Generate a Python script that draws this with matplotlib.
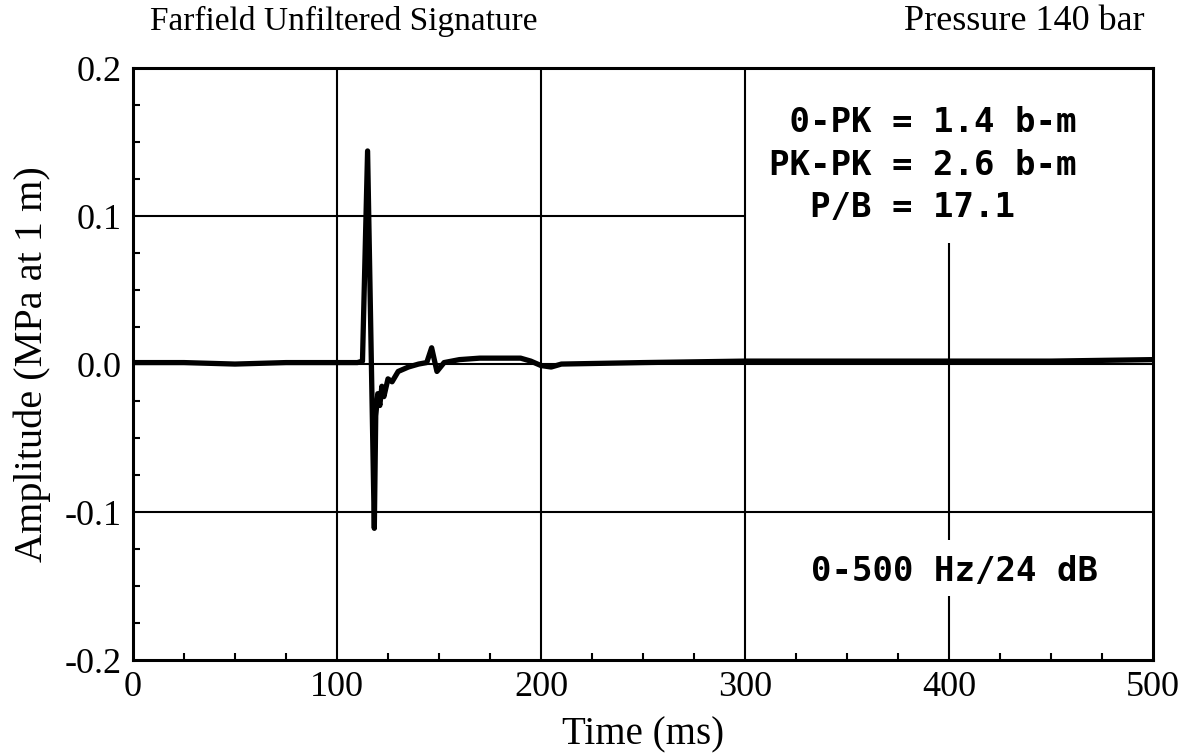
import matplotlib.pyplot as plt
from matplotlib.ticker import MultipleLocator


# Signature
time_ms = [0, 25, 50, 75, 100, 110, 112.5, 115, 118.3, 119, 120, 121, 122,
           123, 125, 127, 130, 135, 140, 144, 146.4, 149, 152.5, 160, 170,
           180, 190, 195, 200, 205, 210, 250, 300, 350, 400, 450, 500]
amplitude = [0.001, 0.001, 0.000, 0.001, 0.001, 0.001, 0.002, 0.144, -0.111,
             -0.035, -0.020, -0.028, -0.015, -0.022, -0.010, -0.012, -0.005,
             -0.002, 0.000, 0.001, 0.011, -0.005, 0.001, 0.003, 0.004, 0.004,
             0.004, 0.002, -0.001, -0.002, 0.000, 0.001, 0.002, 0.002, 0.002,
             0.002, 0.003]

x_ticks = [0, 100, 200, 300, 400, 500]
y_ticks = [-0.2, -0.1, 0.0, 0.1, 0.2]
y_tick_labels = ['-0.2', '-0.1', '0.0', '0.1', '0.2']

stats_lines = [' 0-PK = 1.4 b-m', 'PK-PK = 2.6 b-m', '  P/B = 17.1']
stats_y = [0.163, 0.134, 0.106]
filter_text = '0-500 Hz/24 dB'

plt.rcParams['font.family'] = ['Liberation Serif', 'DejaVu Serif']

fig = plt.figure(figsize=(11.96, 7.55), dpi=100)
ax = fig.add_axes([0.1112, 0.1258, 0.8528, 0.784])

# Grid drawn by hand, the annotation boxes cut through part of it
grid_kw = dict(colors='black', linewidth=1.5, zorder=1)
ax.vlines([100, 200, 300], -0.2, 0.2, **grid_kw)
ax.vlines(400, -0.2, -0.157, **grid_kw)
ax.vlines(400, -0.119, 0.082, **grid_kw)
ax.hlines(0.1, 0, 300, **grid_kw)
ax.hlines([0.0, -0.1], 0, 500, **grid_kw)

ax.plot(time_ms, amplitude, color='black', linewidth=3.8, zorder=3)

ax.set_xlim(0, 500)
ax.set_ylim(-0.2, 0.2)
ax.set_xticks(x_ticks)
ax.set_yticks(y_ticks)
ax.set_yticklabels(y_tick_labels)
ax.xaxis.set_minor_locator(MultipleLocator(25))
ax.yaxis.set_minor_locator(MultipleLocator(0.025))
ax.tick_params(axis='both', which='major', length=0, labelsize=26, pad=8)
ax.tick_params(axis='both', which='minor', direction='in', length=5, width=1.5)

for spine in ax.spines.values():
    spine.set_linewidth(2.2)

ax.set_xlabel('Time (ms)', fontsize=28, labelpad=9)
ax.set_ylabel('Amplitude (MPa at 1 m)', fontsize=29, labelpad=10)

for line, y in zip(stats_lines, stats_y):
    ax.text(311.7, y, line, family='DejaVu Sans Mono', fontweight='bold',
            fontsize=24.5, ha='left', va='center', zorder=4)
ax.text(402.5, -0.1405, filter_text, family='DejaVu Sans Mono',
        fontweight='bold', fontsize=24.5, ha='center', va='center', zorder=4)

fig.text(150 / 1196, 1 - 30 / 755, 'Farfield Unfiltered Signature',
         fontsize=24, ha='left', va='baseline')
fig.text(1145 / 1196, 1 - 30 / 755, 'Pressure 140 bar',
         fontsize=26, ha='right', va='baseline')

fig.savefig('out.png', dpi=100)
